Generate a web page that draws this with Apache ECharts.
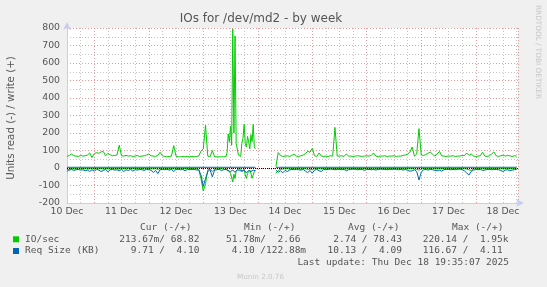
<!DOCTYPE html>
<html><head><meta charset="utf-8">
<script src="https://cdn.jsdelivr.net/npm/echarts@6/dist/echarts.min.js"></script>
<style>html,body{margin:0;padding:0;background:#f0f0f0}#c{width:547px;height:287px}</style>
</head><body><div id="c"></div>
<script>
// x axis unit: days after the "10 Dec" label
const dayLabels = ['10 Dec','11 Dec','12 Dec','13 Dec','14 Dec','15 Dec','16 Dec','17 Dec','18 Dec'];
const yTickValues = [-200,-100,0,100,200,300,400,500,600,700,800];

// sampling grid (hours): hourly, half-hourly through the 13 Dec burst, one gap marker, hourly again
const sampleHours = [];
for (let h = 0; h <= 70; h++) sampleHours.push(h);
for (let h = 70.5; h <= 83; h += 0.5) sampleHours.push(h);
sampleHours.push(84);
for (let h = 92; h <= 198; h++) sampleHours.push(h);

// IO/sec write (+)
const writeIO = [
66,72,80,70,68,66,72,68,70,74,
86,60,82,88,84,92,94,70,84,76,
70,72,74,130,70,68,72,68,70,66,
68,72,66,68,70,74,80,70,68,66,
72,90,70,66,64,66,68,128,68,64,
64,66,64,66,64,66,64,66,68,96,
110,245,68,64,100,64,64,64,64,64,
64,
90,195,150,240,130,795,200,755,140,130,74,64,66,140,170,250,140,120,180,150,110,190,150,250,120,110,
null,
8,88,72,66,68,70,66,72,
80,68,66,70,74,82,96,90,112,70,
66,86,68,66,68,66,70,68,232,68,
68,70,66,80,68,68,66,68,70,68,
66,68,70,68,72,86,68,66,68,68,
70,66,68,68,70,66,68,68,72,74,
80,90,120,68,80,225,74,72,76,84,
92,78,68,80,95,70,68,66,68,68,
70,66,68,68,72,70,86,72,80,68,
66,68,70,90,68,66,70,80,92,70,
66,70,74,68,72,70,66,70,68
];
// IO/sec read (-)
const readIO = [
-22,-6,-4,-5,-4,-6,-4,-5,-4,-6,
-5,-4,-6,-4,-5,-4,-6,-4,-5,-4,
-4,-5,-4,-6,-4,-5,-4,-4,-5,-4,
-4,-5,-4,-4,-6,-4,-5,-4,-6,-4,
-8,-4,-5,-4,-4,-5,-4,-6,-4,-4,
-4,-5,-4,-4,-5,-4,-4,-5,-8,-60,
-131,-90,-10,-5,-20,-6,-4,-5,-4,-6,
-8,
-6,-12,-8,-30,-20,-80,-35,-60,-15,-10,-6,-6,-5,-20,-10,-10,-40,-59,-30,-20,-12,-30,-59,-40,-20,-12,
null,
-30,-14,-8,-6,-5,-4,-6,-4,
-5,-4,-4,-6,-4,-5,-8,-6,-10,-4,
-5,-4,-6,-4,-5,-4,-4,-5,-6,-4,
-4,-5,-4,-6,-4,-5,-4,-4,-5,-4,
-4,-5,-4,-6,-4,-8,-4,-5,-4,-4,
-4,-5,-4,-4,-5,-4,-4,-5,-4,-6,
-4,-5,-4,-5,-8,-12,-6,-4,-5,-4,
-4,-5,-4,-6,-4,-5,-4,-4,-5,-4,
-4,-5,-4,-4,-5,-4,-6,-10,-14,-6,
-4,-5,-4,-4,-5,-4,-4,-5,-4,-6,
-4,-5,-4,-4,-5,-4,-4,-5,-4
];
// Req Size (KB) read (-)
const readReq = [
-10,-12,-8,-14,-10,-8,-12,-10,-16,-12,
-20,-10,-18,-8,-12,-20,-14,-8,-22,-10,
-8,-12,-10,-16,-8,-20,-10,-14,-8,-18,
-10,-12,-8,-10,-14,-8,-10,-12,-26,-14,
-32,-10,-8,-10,-8,-12,-8,-20,-8,-8,
-10,-8,-16,-8,-10,-8,-8,-12,-10,-40,
-105,-60,-20,-10,-50,-12,-10,-8,-14,-10,
-8,
-10,-16,-12,-20,-14,-12,-18,-24,-14,-10,-12,-14,-10,-18,-12,-10,-16,-28,-18,-14,-10,-20,-14,-12,-18,-16,
null,
-12,-24,-16,-28,-14,-20,-12,-8,
-10,-8,-10,-12,-8,-18,-26,-14,-30,-12,
-8,-16,-20,-8,-10,-8,-6,-8,-10,-8,
-8,-10,-8,-16,-10,-8,-6,-8,-10,-8,
-8,-14,-8,-8,-10,-8,-12,-8,-6,-8,
-8,-10,-8,-8,-6,-8,-10,-8,-12,-8,
-14,-18,-16,-10,-20,-69,-24,-10,-8,-12,
-8,-10,-14,-16,-12,-18,-10,-8,-8,-10,
-8,-10,-8,-6,-10,-16,-28,-40,-20,-12,
-8,-10,-8,-14,-12,-8,-8,-10,-8,-8,
-10,-14,-20,-12,-10,-16,-12,-10,-8
];
// Req Size (KB) write (+): flat line, given at its end points (days)
const reqWriteTimes = [0, 3.4583, 3.5, 3.8333, 8.25];
const reqWriteVals  = [4.1, 4.1, null, 4.1, 4.1];

const legendRows = [
  {name:'IO/sec', color:'#00cc00', cur:'213.67m/ 68.82', min:' 51.78m/  2.66', avg:'  2.74 / 78.43', max:'220.14 /  1.95k'},
  {name:'Req Size (KB)', color:'#0066b3', cur:'  9.71 /  4.10', min:'  4.10 /122.88m', avg:' 10.13 /  4.09', max:'116.67 /  4.11'}
];
const legendHeaders = ['Cur (-/+)','Min (-/+)','Avg (-/+)','Max (-/+)'];

const onGrid = arr => arr.map((v, i) => [sampleHours[i] / 24, v]);
const pairs = (ts, vs) => ts.map((t, i) => [t, vs[i]]);

const GRID_MAJOR = 'rgba(230,120,120,0.75)';
const GRID_MINOR = 'rgba(190,190,190,0.9)';
const AXIS_COL = '#c8cdf0';
const TXT = '#555';
const MONO = '"DejaVu Sans Mono", monospace';
const SANS = '"DejaVu Sans", sans-serif';

const lineBase = {type:'line', showSymbol:false, symbol:'none', connectNulls:false, animation:false, silent:true};

const graphics = [
  {type:'text', x:261, y:19, style:{text:'IOs for /dev/md2 - by week', font:'12px '+SANS, fill:TXT, textAlign:'center', textVerticalAlign:'middle'}},
  {type:'text', x:11, y:118, rotation:Math.PI/2, style:{text:'Units read (-) / write (+)', font:'10.3px '+SANS, fill:TXT, textAlign:'center', textVerticalAlign:'middle'}},
  {type:'text', x:537.5, y:5, rotation:-Math.PI/2, style:{text:'RRDTOOL / TOBI OETIKER', font:'7.3px '+SANS, fill:'#c8c8c8', textAlign:'left', textVerticalAlign:'middle'}},
  {type:'text', x:509, y:263, style:{text:'Last update: Thu Dec 18 19:35:07 2025', font:'9.5px '+MONO, fill:TXT, textAlign:'right', textVerticalAlign:'middle'}},
  {type:'text', x:260.5, y:277, style:{text:'Munin 2.0.76', font:'7.2px '+SANS, fill:'#c8c8c8', textAlign:'center', textVerticalAlign:'middle'}}
];
const headerX = [140, 244, 348, 452];
legendHeaders.forEach((h, k) => graphics.push({type:'text', x:headerX[k], y:227.5,
  style:{text:h, font:'9.5px '+MONO, fill:TXT, textAlign:'left', textVerticalAlign:'middle'}}));
const colX = [119.3, 220.3, 321.8, 422.7];
const rowY = [239.3, 251];
legendRows.forEach((r, j) => {
  graphics.push({type:'rect', shape:{x:13, y:rowY[j]-3, width:6, height:6}, style:{fill:r.color}});
  graphics.push({type:'text', x:25, y:rowY[j], style:{text:r.name, font:'9.5px '+MONO, fill:TXT, textVerticalAlign:'middle'}});
  [r.cur, r.min, r.avg, r.max].forEach((s, k) => graphics.push({type:'text', x:colX[k], y:rowY[j],
    style:{text:s, font:'9.5px '+MONO, fill:TXT, textAlign:'left', textVerticalAlign:'middle'}}));
});

const chart = echarts.init(document.getElementById('c'), null, {renderer:'canvas'});
chart.setOption({
  backgroundColor:'#f0f0f0',
  animation:false,
  grid:{left:67, top:28, width:451, height:175, show:true, backgroundColor:'#ffffff', borderWidth:0},
  xAxis:{type:'value', min:0, max:451/54.5, interval:0.25,
    axisLine:{onZero:false, lineStyle:{color:AXIS_COL, width:1}, symbol:['none','arrow'], symbolSize:[6,8], symbolOffset:[0,6]},
    axisTick:{show:false},
    axisLabel:{margin:4, color:TXT, fontFamily:'DejaVu Sans', fontSize:9.33, showMaxLabel:false,
      formatter:v => { const r = Math.round(v); return Math.abs(v - r) < 1e-6 && dayLabels[r] ? dayLabels[r] : ''; }},
    splitLine:{show:true, lineStyle:{color:[GRID_MINOR, GRID_MINOR, GRID_MAJOR, GRID_MINOR], type:[1,2], width:1}}
  },
  yAxis:{type:'value', min:-200, max:800, interval:50,
    axisLine:{show:true, onZero:false, lineStyle:{color:AXIS_COL, width:1}, symbol:['none','arrow'], symbolSize:[6,8], symbolOffset:[0,6]},
    axisTick:{show:false},
    axisLabel:{margin:7, color:TXT, fontFamily:'DejaVu Sans', fontSize:9.33,
      formatter:v => yTickValues.indexOf(v) >= 0 ? String(v) : ''},
    splitLine:{show:true, lineStyle:{color:[GRID_MAJOR, GRID_MINOR], type:[1,2], width:1}}
  },
  series:[
    Object.assign({}, lineBase, {name:'IO read', data:onGrid(readIO), lineStyle:{width:1, color:'#00cc00'}, itemStyle:{color:'#00cc00'}}),
    Object.assign({}, lineBase, {name:'IO write', data:onGrid(writeIO), lineStyle:{width:1, color:'#00cc00'}, itemStyle:{color:'#00cc00'}}),
    Object.assign({}, lineBase, {name:'Req read', data:onGrid(readReq), lineStyle:{width:1, color:'#0066b3'}, itemStyle:{color:'#0066b3'}}),
    Object.assign({}, lineBase, {name:'Req write', data:pairs(reqWriteTimes, reqWriteVals), lineStyle:{width:1, color:'#0066b3'}, itemStyle:{color:'#0066b3'},
      markLine:{silent:true, symbol:['none','none'], label:{show:false}, animation:false,
        lineStyle:{color:'#000000', width:1, type:[1,1]}, data:[{yAxis:0}]}})
  ],
  graphic:graphics
});
</script></body></html>
